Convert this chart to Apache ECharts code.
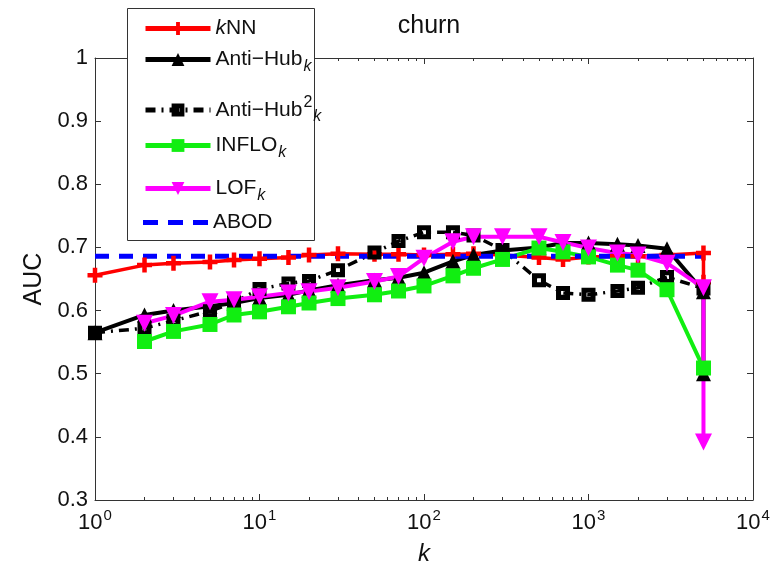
<!DOCTYPE html>
<html lang="en">
  <head>
    <meta charset="UTF-8" />
    <title>churn</title>
    <script src="https://cdn.jsdelivr.net/npm/echarts@6.0.0/dist/echarts.min.js"></script>
  </head>
  <style>
    html, body { margin: 0; padding: 0; background: #fff; }
  </style>
  <body>
    <div id="box" style="width: 776px; height: 572px"></div>
  </body>
  <script>
    // k values (last two points sit at the same spot on the log axis)
    var kValues = [1, 2, 3, 5, 7, 10, 15, 20, 30, 50, 70, 100, 150, 200, 300, 500, 700, 1000, 1500, 2000, 3000, 4999, 5000];
    var knn = [0.656, 0.672, 0.675, 0.677, 0.680, 0.682, 0.684, 0.688, 0.690, 0.689, 0.689, 0.688, 0.689, 0.690, 0.688, 0.684, 0.681, 0.685, 0.686, 0.686, 0.688, 0.691, 0.645];
    var antiHub = [0.565, 0.593, 0.600, 0.607, 0.612, 0.620, 0.625, 0.632, 0.640, 0.648, 0.652, 0.660, 0.678, 0.688, 0.695, 0.700, 0.707, 0.707, 0.705, 0.703, 0.698, 0.630, 0.500];
    var antiHub2 = [0.565, 0.572, 0.584, 0.599, 0.613, 0.634, 0.643, 0.647, 0.664, 0.692, 0.710, 0.724, 0.724, 0.719, 0.696, 0.648, 0.628, 0.625, 0.631, 0.636, 0.653, null, 0.635];
    var inflo = [null, 0.551, 0.567, 0.578, 0.593, 0.598, 0.606, 0.612, 0.619, 0.625, 0.631, 0.639, 0.655, 0.667, 0.681, 0.699, 0.693, 0.685, 0.672, 0.664, 0.633, null, 0.509];
    var lof = [null, 0.580, 0.592, 0.614, 0.617, 0.622, 0.628, 0.630, 0.636, 0.646, 0.654, 0.683, 0.709, 0.717, 0.717, 0.717, 0.708, 0.699, 0.691, 0.688, 0.675, 0.636, 0.392];
    var abodK = [1, 5000];
    var abod = [0.686, 0.686];
    var yTicks = [0.3, 0.4, 0.5, 0.6, 0.7, 0.8, 0.9, 1];

    function pairs(xs, ys) {
      var out = [];
      for (var i = 0; i < xs.length; i++) {
        if (ys[i] != null) out.push([xs[i], ys[i]]);
      }
      return out;
    }

    var plusPath = "path://M3.5,0 H6.5 V3.5 H10 V6.5 H6.5 V10 H3.5 V6.5 H0 V3.5 H3.5 Z";
    var downTri = "path://M0,0 L10,0 L5,9 Z";
    // square with a small hole in the middle (thick-edged hollow marker)
    var holeSquare = "path://M0,0 H10 V10 H0 Z M3.6,3.6 V6.4 H6.4 V3.6 Z";
    var dashIcon = "path://M0,0 H15 V5 H0 Z M25,0 H40 V5 H25 Z M50,0 H65 V5 H50 Z";
    var font = "Liberation Sans, Arial, sans-serif";

    var legendNames = {
      kNN: "{i|k}NN",
      AntiHub: "Anti\u2212Hub{sub|k}",
      AntiHub2: "Anti\u2212Hub{sup|2}{sub|k}",
      INFLO: "INFLO{sub|k}",
      LOF: "LOF{sub|k}",
      ABOD: "ABOD",
    };
    var legendRich = {
      i: { fontStyle: "italic", fontSize: 21, fontFamily: font, color: "#111" },
      sub: { fontStyle: "italic", fontSize: 16, fontFamily: font, color: "#111", padding: [14, 0, 0, 1] },
      sup: { fontSize: 16, fontFamily: font, color: "#111", padding: [0, 0, 14, 1] },
    };
    function oneLegend(item, top) {
      return {
        data: [item],
        left: 138,
        top: top,
        orient: "vertical",
        itemWidth: 65,
        itemHeight: 16,
        selectedMode: false,
        lineStyle: { width: 5 },
        formatter: function (n) { return legendNames[n]; },
        textStyle: { fontSize: 21, fontFamily: font, color: "#111", rich: legendRich },
      };
    }

    var myChart = echarts.init(document.getElementById("box"));
    var option = {
      animation: false,
      backgroundColor: "#fff",
      title: {
        text: "churn",
        left: 424,
        top: 9,
        textAlign: "center",
        textStyle: { fontSize: 25, fontWeight: "normal", fontFamily: font, color: "#111" },
      },
      grid: { left: 95, right: 23, top: 58, bottom: 72 },
      legend: [
        oneLegend("kNN", 13),
        oneLegend("AntiHub", 44),
        oneLegend("AntiHub2", 90),
        oneLegend("INFLO", 130),
        oneLegend("LOF", 173),
        oneLegend({ name: "ABOD", icon: dashIcon, itemStyle: { color: "#0000ff" } }, 207),
      ],
      graphic: [
        {
          type: "rect",
          z: 3,
          shape: { x: 127.5, y: 8.5, width: 187, height: 232 },
          style: { fill: "#fff", stroke: "#333", lineWidth: 1 },
        },
      ],
      xAxis: [
        {
          type: "log",
          logBase: 10,
          min: 1,
          max: 10000,
          name: "k",
          nameLocation: "middle",
          nameGap: 42,
          nameTextStyle: { fontSize: 24, fontStyle: "italic", fontFamily: font, color: "#111" },
          axisLine: { lineStyle: { color: "#333", width: 1 } },
          axisTick: { inside: true, length: 6, lineStyle: { color: "#333" } },
          minorTick: { show: true, splitNumber: 9, length: 3, lineStyle: { color: "#333" } },
          splitLine: { show: false },
          axisLabel: {
            margin: 8,
            formatter: function (v) {
              return "{b|10}{s|" + Math.round(Math.log10(v)) + "}";
            },
            rich: {
              b: { fontSize: 22, fontFamily: font, color: "#111" },
              s: { fontSize: 15, fontFamily: font, color: "#111", padding: [0, 0, 14, 1] },
            },
          },
        },
        {
          type: "log",
          logBase: 10,
          min: 1,
          max: 10000,
          position: "top",
          axisLine: { lineStyle: { color: "#333", width: 1 } },
          axisTick: { inside: true, length: 6, lineStyle: { color: "#333" } },
          minorTick: { show: true, splitNumber: 9, length: 3, lineStyle: { color: "#333" } },
          splitLine: { show: false },
          axisLabel: { show: false },
        },
      ],
      yAxis: [
        {
          type: "value",
          min: 0.3,
          max: 1,
          interval: 0.1,
          name: "AUC",
          nameLocation: "middle",
          nameGap: 48,
          nameTextStyle: { fontSize: 25, fontFamily: font, color: "#111" },
          axisLine: { show: true, lineStyle: { color: "#333", width: 1 } },
          axisTick: { show: true, inside: true, length: 6, lineStyle: { color: "#333" } },
          splitLine: { show: false },
          axisLabel: {
            margin: 7,
            fontSize: 22,
            fontFamily: font,
            color: "#111",
            formatter: function (v) {
              var t = yTicks.find(function (x) { return Math.abs(x - v) < 1e-6; });
              return t === undefined ? "" : String(t);
            },
          },
        },
        {
          type: "value",
          min: 0.3,
          max: 1,
          interval: 0.1,
          position: "right",
          axisLine: { show: true, lineStyle: { color: "#333", width: 1 } },
          axisTick: { show: true, inside: true, length: 6, lineStyle: { color: "#333" } },
          splitLine: { show: false },
          axisLabel: { show: false },
        },
      ],
      series: [
        {
          name: "kNN",
          type: "line",
          data: pairs(kValues, knn),
          symbol: plusPath,
          symbolSize: 15,
          lineStyle: { color: "#ff0000", width: 3.5 },
          itemStyle: { color: "#ff0000" },
        },
        {
          name: "AntiHub",
          type: "line",
          data: pairs(kValues, antiHub),
          symbol: "triangle",
          symbolSize: 15,
          lineStyle: { color: "#000", width: 4 },
          itemStyle: { color: "#000" },
        },
        {
          name: "AntiHub2",
          type: "line",
          data: pairs(kValues, antiHub2),
          symbol: holeSquare,
          symbolSize: 14,
          lineStyle: { color: "#000", width: 3.5, type: [10, 6, 2, 6] },
          itemStyle: { color: "#000" },
        },
        {
          name: "INFLO",
          type: "line",
          data: pairs(kValues, inflo),
          symbol: "rect",
          symbolSize: 15,
          lineStyle: { color: "#11ee11", width: 4 },
          itemStyle: { color: "#11ee11" },
        },
        {
          name: "LOF",
          type: "line",
          data: pairs(kValues, lof),
          symbol: downTri,
          symbolSize: 17,
          lineStyle: { color: "#ff00ff", width: 4 },
          itemStyle: { color: "#ff00ff" },
        },
        {
          name: "ABOD",
          type: "line",
          data: pairs(abodK, abod),
          showSymbol: false,
          symbol: "none",
          lineStyle: { color: "#0000ff", width: 5, type: [14, 10] },
          itemStyle: { color: "#0000ff" },
        },
      ],
    };
    myChart.setOption(option);
  </script>
</html>
